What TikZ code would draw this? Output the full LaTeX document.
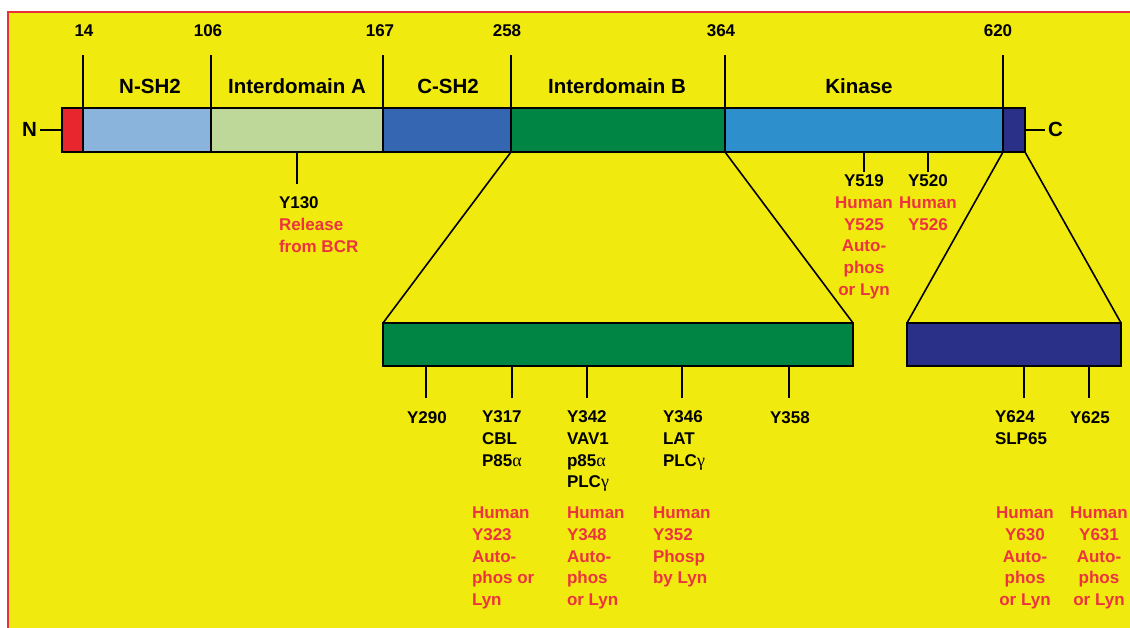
\documentclass[tikz,border=0pt]{standalone}
\usepackage{fontspec}
\setmainfont{Liberation Sans}
\newfontfamily\grk{Liberation Serif}
\definecolor{bgyellow}{RGB}{241,234,14}
\definecolor{bordred}{RGB}{232,50,58}
\definecolor{txtred}{RGB}{236,52,64}
\definecolor{segred}{RGB}{232,38,46}
\definecolor{nshblue}{RGB}{138,180,220}
\definecolor{idAgreen}{RGB}{190,216,154}
\definecolor{cshblue}{RGB}{52,102,178}
\definecolor{idBgreen}{RGB}{0,133,68}
\definecolor{kinblue}{RGB}{46,143,205}
\definecolor{ctermblue}{RGB}{42,48,136}
\newcommand{\R}[1]{\textcolor{txtred}{#1}}
\newcommand{\galpha}{{\grk\mdseries\fontsize{18}{21.7}\selectfont α}}
\newcommand{\ggamma}{{\grk\mdseries\fontsize{18}{21.7}\selectfont γ}}
\tikzset{
  seg/.style={draw=black, line width=1.7pt, inner sep=0pt, outer sep=0pt, anchor=north west, minimum height=44pt},
  lowbox/.style={draw=black, line width=1.7pt, inner sep=0pt, outer sep=0pt, anchor=north west, minimum height=43pt},
  conn/.style={draw=black, line width=1.6pt},
  lbl/.style={font=\fontsize{17}{21.7}\selectfont\bfseries, inner sep=0pt, outer sep=0pt},
  dom/.style={font=\fontsize{20.5}{24}\selectfont\bfseries, inner sep=0pt, outer sep=0pt, anchor=base},
}
\begin{document}
\begin{tikzpicture}[x=1pt,y=-1pt]
\useasboundingbox (0,0) rectangle (1130,628);
\fill[white] (0,0) rectangle (1130,628);
\fill[bgyellow] (8,12) rectangle (1130,628);
\draw[bordred, line width=2.5pt] (8,628) -- (8,12) -- (1130,12);

% main bar
\node[seg, fill=segred, minimum width=21pt] (nterm) at (62,108) {};
\node[seg, fill=nshblue, minimum width=128pt] (nsh2) at (83,108) {};
\node[seg, fill=idAgreen, minimum width=172pt] (idA) at (211,108) {};
\node[seg, fill=cshblue, minimum width=128pt] (csh2) at (383,108) {};
\node[seg, fill=idBgreen, minimum width=214pt] (idB) at (511,108) {};
\node[seg, fill=kinblue, minimum width=278pt] (kin) at (725,108) {};
\node[seg, fill=ctermblue, minimum width=22pt] (cterm) at (1003,108) {};

% lower boxes
\node[lowbox, fill=idBgreen, minimum width=470pt] (lowB) at (383,323) {};
\node[lowbox, fill=ctermblue, minimum width=214pt] (lowC) at (907,323) {};

% boundary numbers and ticks
\coordinate (t14) at (83,55);
\coordinate (t106) at (211,55);
\coordinate (t167) at (383,55);
\coordinate (t258) at (511,55);
\coordinate (t364) at (725,55);
\coordinate (t620) at (1003,55);
\draw[conn] (nsh2.north west) -- (t14);
\draw[conn] (idA.north west) -- (t106);
\draw[conn] (csh2.north west) -- (t167);
\draw[conn] (idB.north west) -- (t258);
\draw[conn] (kin.north west) -- (t364);
\draw[conn] (cterm.north west) -- (t620);
\node[lbl, anchor=base] (n14) at (84,37) {14};
\node[lbl, anchor=base] (n106) at (208,37) {106};
\node[lbl, anchor=base] (n167) at (380,37) {167};
\node[lbl, anchor=base] (n258) at (507,37) {258};
\node[lbl, anchor=base] (n364) at (721,37) {364};
\node[lbl, anchor=base] (n620) at (998,37) {620};

% domain labels
\node[dom] (lnsh2) at (150,94) {N-SH2};
\node[dom] (lidA) at (297,94) {Interdomain A};
\node[dom] (lcsh2) at (448,94) {C-SH2};
\node[dom] (lidB) at (617,94) {Interdomain B};
\node[dom] (lkin) at (859,94) {Kinase};

% N and C termini
\node[dom, anchor=base east] (Nlbl) at (37,137) {N};
\node[dom, anchor=base west] (Clbl) at (1048,137) {C};
\coordinate (nend) at (40,130);
\coordinate (cend) at (1045,130);
\draw[conn] (nend) -- (nterm.west);
\draw[conn] (cterm.east) -- (cend);

% expansion lines
\draw[conn] (idB.south west) -- (lowB.north west);
\draw[conn] (idB.south east) -- (lowB.north east);
\draw[conn] (cterm.south west) -- (lowC.north west);
\draw[conn] (cterm.south east) -- (lowC.north east);

% Y130
\coordinate (y130) at (297,184);
\draw[conn] (idA.south -| y130) -- (y130);
\node[lbl, anchor=north west, align=left] (ly130) at (279,197) {Y130\\\R{Release}\\\R{from BCR}};

% Y519, Y520
\coordinate (y519) at (864,172);
\coordinate (y520) at (928,172);
\draw[conn] (kin.south -| y519) -- (y519);
\draw[conn] (kin.south -| y520) -- (y520);
\node[lbl, anchor=north, align=center] (ly519) at (864,175) {Y519\\\R{Human}\\\R{Y525}\\\R{Auto-}\\\R{phos}\\\R{or Lyn}};
\node[lbl, anchor=north, align=center] (ly520) at (928,175) {Y520\\\R{Human}\\\R{Y526}};

% interdomain B sites
\coordinate (y290) at (426,398);
\coordinate (y317) at (512,398);
\coordinate (y342) at (587,398);
\coordinate (y346) at (682,398);
\coordinate (y358) at (789,398);
\draw[conn] (lowB.south -| y290) -- (y290);
\draw[conn] (lowB.south -| y317) -- (y317);
\draw[conn] (lowB.south -| y342) -- (y342);
\draw[conn] (lowB.south -| y346) -- (y346);
\draw[conn] (lowB.south -| y358) -- (y358);
\node[lbl, anchor=base] (ly290) at (427,423) {Y290};
\node[lbl, anchor=north west, align=left] (ly317) at (482,411) {Y317\\CBL\\P85\galpha};
\node[lbl, anchor=north west, align=left] (ly342) at (567,411) {Y342\\VAV1\\p85\galpha\\PLC\ggamma};
\node[lbl, anchor=north west, align=left] (ly346) at (663,411) {Y346\\LAT\\PLC\ggamma};
\node[lbl, anchor=base] (ly358) at (790,423) {Y358};
\node[lbl, anchor=north west, align=left, text=txtred] (h323) at (472,507) {Human\\Y323\\Auto-\\phos or\\Lyn};
\node[lbl, anchor=north west, align=left, text=txtred] (h348) at (567,507) {Human\\Y348\\Auto-\\phos\\or Lyn};
\node[lbl, anchor=north west, align=left, text=txtred] (h352) at (653,507) {Human\\Y352\\Phosp\\by Lyn};

% C-terminal sites
\coordinate (y624) at (1024,398);
\coordinate (y625) at (1089,398);
\draw[conn] (lowC.south -| y624) -- (y624);
\draw[conn] (lowC.south -| y625) -- (y625);
\node[lbl, anchor=north west, align=left] (ly624) at (995,411) {Y624\\SLP65};
\node[lbl, anchor=base] (ly625) at (1090,423) {Y625};
\node[lbl, anchor=north, align=center, text=txtred] (h630) at (1025,507) {Human\\Y630\\Auto-\\phos\\or Lyn};
\node[lbl, anchor=north, align=center, text=txtred] (h631) at (1099,507) {Human\\Y631\\Auto-\\phos\\or Lyn};
\end{tikzpicture}
\end{document}
